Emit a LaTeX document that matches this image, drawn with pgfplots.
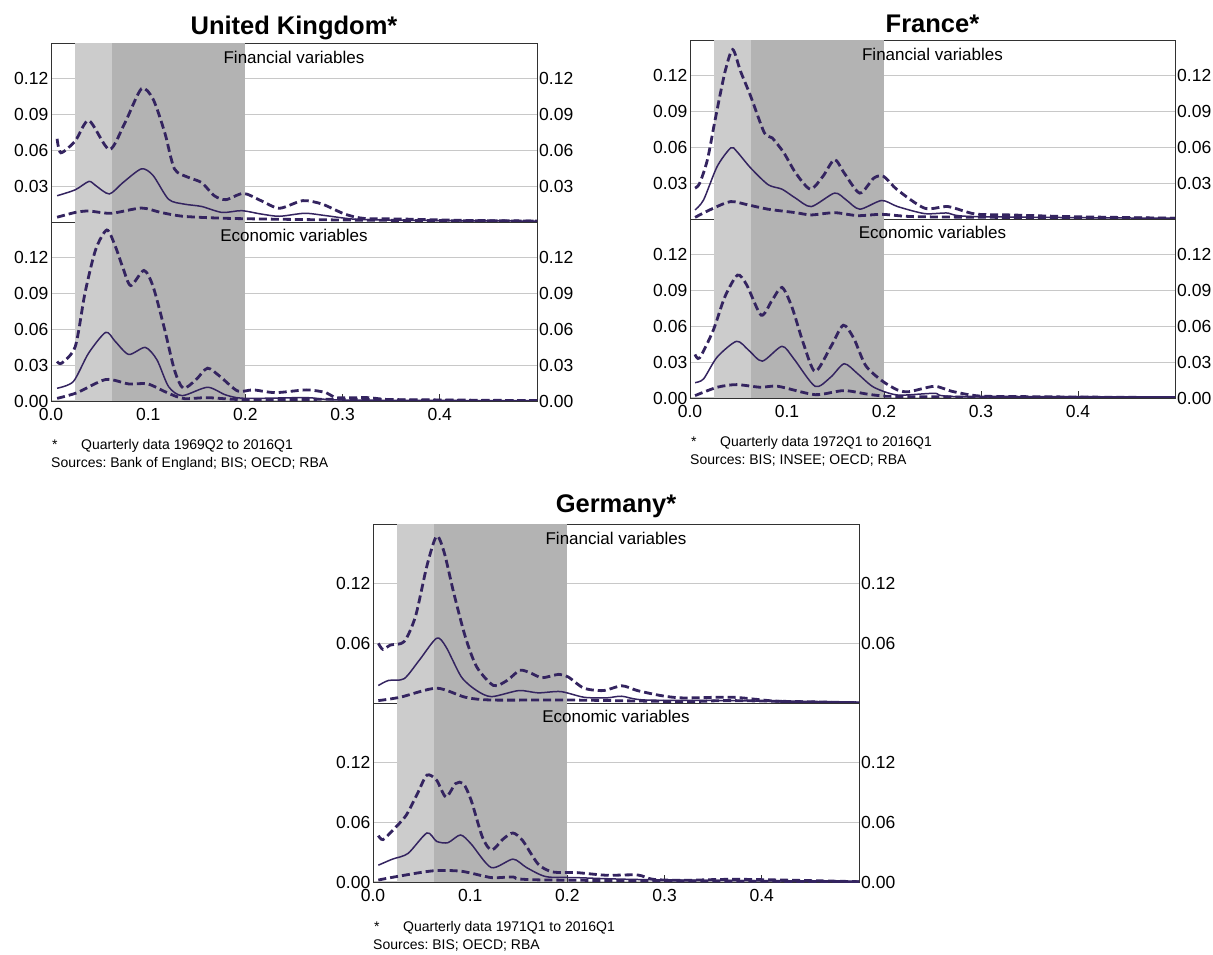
\documentclass[border=0pt]{standalone}
\usepackage{fontspec}
\setmainfont{Liberation Sans}
\usepackage{pgfplots}
\pgfplotsset{compat=1.18}
\frenchspacing
\definecolor{curve}{RGB}{52,36,96}
\definecolor{shadeL}{RGB}{204,204,204}
\definecolor{shadeD}{RGB}{179,179,179}
\definecolor{gridc}{RGB}{200,200,200}
\definecolor{frame}{RGB}{50,50,50}

\tikzset{
  panellab/.style={anchor=north, inner sep=0pt, font=\fontsize{17}{17}\selectfont},
  ttl/.style={anchor=base, inner sep=0pt, font=\bfseries\fontsize{25.5}{25.5}\selectfont},
  fn/.style={anchor=base west, inner sep=0pt, font=\fontsize{14}{14}\selectfont},
}
\pgfplotsset{
  yfmt/.style={/pgf/number format/fixed, /pgf/number format/fixed zerofill, /pgf/number format/precision=2, /pgf/number format/assume math mode=true},
  xfmt/.style={/pgf/number format/fixed, /pgf/number format/fixed zerofill, /pgf/number format/precision=1, /pgf/number format/assume math mode=true},
  panel/.style={scale only axis, height=179pt, xmin=0, xmax=0.5, ymin=0, anchor=south west,
    axis line style={frame, line width=0.9pt},
    ymajorgrids, major grid style={gridc, line width=1.2pt},
    ytick style={draw=none},
    /pgf/number format/assume math mode=true,
    tick label style={font=\fontsize{17.5}{17.5}\selectfont},
    yticklabel style={yfmt, inner sep=2.5pt},
  },
  upper/.style={panel, xtick=\empty},
  lower/.style={panel, xtick={0,0.1,0.2,0.3,0.4}, xtick pos=bottom, tick align=inside,
    major tick length=7pt, xtick style={frame, line width=0.8pt},
    xticklabel style={xfmt, inner sep=1pt, yshift=-6pt}},
  up/.style={curve, line width=2.8pt, dash pattern=on 8pt off 4pt, smooth, tension=0.45},
  med/.style={curve, line width=1.5pt, smooth, tension=0.45},
  lo/.style={curve, line width=2.8pt, dash pattern=on 8pt off 4pt, smooth, tension=0.45},
}

\newcommand{\rightax}[5]{%
\begin{axis}[scale only axis, width=#3, height=179pt, at={(#1,#2)}, anchor=south west,
  xmin=0, xmax=0.5, ymin=0, ymax=#4, axis x line=none, axis y line*=right,
  axis line style={draw=none}, ytick={#5}, yticklabel pos=right, ytick style={draw=none},
  /pgf/number format/assume math mode=true,
  tick label style={font=\fontsize{17.5}{17.5}\selectfont},
  yticklabel style={yfmt, inner sep=2pt}]
\addplot[draw=none] coordinates {(0.1,0.01)};
\end{axis}}

\newcommand{\bands}[1]{%
\addplot[fill=shadeL, draw=none] coordinates {(0.025,#1) (0.0625,#1)} \closedcycle;
\addplot[fill=shadeD, draw=none] coordinates {(0.0625,#1) (0.2,#1)} \closedcycle;}

\begin{document}
\begin{tikzpicture}
\path[use as bounding box] (0,0) rectangle (1213pt,954pt);
\fill[white] (0,0) rectangle (1213pt,954pt);

%================ UNITED KINGDOM =================
\begin{axis}[upper, name=ukU, at={(51pt,732pt)}, width=486pt, ymax=0.15, ytick={0.03,0.06,0.09,0.12}]
\bands{0.15}
\addplot[up] coordinates {(0.0063,0.0697) (0.0102,0.058) (0.025,0.068) (0.039,0.085) (0.060,0.0607) (0.076,0.083) (0.093,0.1116) (0.105,0.103) (0.117,0.075) (0.127,0.0445) (0.141,0.0375) (0.155,0.033) (0.168,0.022) (0.180,0.0187) (0.198,0.024) (0.216,0.0179) (0.235,0.0115) (0.259,0.0179) (0.279,0.015) (0.302,0.0067) (0.322,0.003) (0.361,0.0025) (0.42,0.0014) (0.5,0.0008)};
\addplot[med] coordinates {(0.0063,0.022) (0.025,0.027) (0.039,0.034) (0.046,0.0305) (0.060,0.0235) (0.074,0.033) (0.093,0.0445) (0.105,0.039) (0.121,0.019) (0.137,0.015) (0.155,0.013) (0.176,0.008) (0.196,0.0095) (0.216,0.0067) (0.235,0.0048) (0.261,0.0073) (0.283,0.0053) (0.31,0.0025) (0.342,0.0017) (0.42,0.001) (0.5,0.0008)};
\addplot[lo] coordinates {(0.0063,0.004) (0.025,0.008) (0.039,0.0092) (0.062,0.0073) (0.093,0.0117) (0.113,0.008) (0.137,0.0047) (0.184,0.003) (0.263,0.002) (0.342,0.0014) (0.5,0.0008)};
\end{axis}
\rightax{51pt}{732pt}{486pt}{0.15}{0.03,0.06,0.09,0.12}

\begin{axis}[lower, name=ukL, at={(51pt,553pt)}, width=486pt, ymax=0.15, ytick={0,0.03,0.06,0.09,0.12}]
\bands{0.15}
\addplot[up] coordinates {(0.0063,0.0331) (0.011,0.0317) (0.025,0.0457) (0.035,0.0906) (0.046,0.127) (0.0575,0.1433) (0.066,0.13) (0.074,0.1116) (0.082,0.0967) (0.0956,0.1094) (0.105,0.096) (0.117,0.0597) (0.127,0.026) (0.136,0.0107) (0.149,0.0177) (0.161,0.0275) (0.174,0.0205) (0.192,0.0084) (0.208,0.0093) (0.231,0.007) (0.263,0.0093) (0.283,0.007) (0.294,0.0028) (0.326,0.0028) (0.36,0.0008) (0.5,0.0003)};
\addplot[med] coordinates {(0.0063,0.0107) (0.023,0.0163) (0.0386,0.040) (0.0563,0.0575) (0.066,0.05) (0.080,0.039) (0.097,0.0449) (0.109,0.0345) (0.121,0.012) (0.135,0.0045) (0.161,0.0115) (0.180,0.005) (0.2,0.0022) (0.263,0.0028) (0.302,0.0008) (0.5,0.0003)};
\addplot[lo] coordinates {(0.0063,0.0022) (0.027,0.007) (0.0563,0.018) (0.08,0.0143) (0.0996,0.0143) (0.121,0.0064) (0.137,0.002) (0.161,0.0028) (0.2,0.0011) (0.3,0.0014) (0.5,0.0003)};
\end{axis}
\rightax{51pt}{553pt}{486pt}{0.15}{0,0.03,0.06,0.09,0.12}

\node[panellab] at ([yshift=-8pt]ukU.north) {Financial variables};
\node[panellab] at ([yshift=-7pt]ukL.north) {Economic variables};
\node[ttl] at ([yshift=8pt]ukU.north) {United Kingdom*};
\node[fn] at ([xshift=1pt,yshift=-49pt]ukL.south west) {*};
\node[fn] at ([xshift=30pt,yshift=-49pt]ukL.south west) {Quarterly data 1969Q2 to 2016Q1};
\node[fn] at ([xshift=0pt,yshift=-67pt]ukL.south west) {Sources: Bank of England; BIS; OECD; RBA};

%================ FRANCE =================
\begin{axis}[upper, name=frU, at={(690pt,735pt)}, width=485pt, ymax=0.15, ytick={0.03,0.06,0.09,0.12}]
\bands{0.15}
\addplot[up] coordinates {(0.0052,0.0259) (0.010,0.030) (0.018,0.0498) (0.026,0.0835) (0.036,0.123) (0.044,0.142) (0.052,0.124) (0.0625,0.103) (0.0766,0.0723) (0.0847,0.068) (0.0968,0.0554) (0.109,0.0385) (0.124,0.025) (0.137,0.0357) (0.149,0.0498) (0.159,0.0385) (0.175,0.0217) (0.1895,0.0343) (0.1996,0.0357) (0.2137,0.0245) (0.242,0.009) (0.266,0.0104) (0.294,0.0042) (0.331,0.0034) (0.391,0.002) (0.5,0.0006)};
\addplot[med] coordinates {(0.0052,0.0076) (0.014,0.016) (0.028,0.044) (0.042,0.0596) (0.048,0.0568) (0.0625,0.0428) (0.0806,0.0287) (0.0948,0.025) (0.109,0.0174) (0.125,0.0104) (0.149,0.0217) (0.161,0.016) (0.175,0.0082) (0.1976,0.0155) (0.214,0.0104) (0.242,0.0045) (0.266,0.005) (0.294,0.002) (0.5,0.0006)};
\addplot[lo] coordinates {(0.0052,0.0014) (0.024,0.009) (0.042,0.0146) (0.06,0.0118) (0.0806,0.0082) (0.109,0.0053) (0.125,0.0034) (0.149,0.0053) (0.173,0.0028) (0.198,0.0039) (0.23,0.002) (0.31,0.0014) (0.5,0.0006)};
\end{axis}
\rightax{690pt}{735pt}{485pt}{0.15}{0.03,0.06,0.09,0.12}

\begin{axis}[lower, name=frL, at={(690pt,556pt)}, width=485pt, ymax=0.15, ytick={0,0.03,0.06,0.09,0.12}]
\bands{0.15}
\addplot[up] coordinates {(0.0052,0.0365) (0.010,0.0337) (0.024,0.0568) (0.036,0.0849) (0.049,0.103) (0.0585,0.0947) (0.0734,0.0694) (0.0847,0.082) (0.0948,0.0927) (0.105,0.0764) (0.117,0.0455) (0.129,0.0222) (0.145,0.0427) (0.158,0.061) (0.169,0.0497) (0.181,0.0273) (0.1976,0.0146) (0.214,0.0067) (0.226,0.0053) (0.252,0.0098) (0.27,0.0056) (0.298,0.0017) (0.351,0.0011) (0.5,0.0003)};
\addplot[med] coordinates {(0.0052,0.0129) (0.014,0.016) (0.028,0.0343) (0.048,0.0475) (0.0605,0.040) (0.0746,0.0309) (0.0948,0.0433) (0.107,0.0329) (0.129,0.0098) (0.145,0.0174) (0.159,0.0287) (0.173,0.0202) (0.1895,0.009) (0.214,0.0025) (0.252,0.0039) (0.278,0.0011) (0.5,0.0003)};
\addplot[lo] coordinates {(0.0052,0.002) (0.028,0.009) (0.048,0.0112) (0.0726,0.009) (0.0907,0.0098) (0.129,0.0028) (0.159,0.0062) (0.1895,0.0025) (0.23,0.0011) (0.5,0.0003)};
\end{axis}
\rightax{690pt}{556pt}{485pt}{0.15}{0,0.03,0.06,0.09,0.12}

\node[panellab] at ([yshift=-8pt]frU.north) {Financial variables};
\node[panellab] at ([yshift=-7pt]frL.north) {Economic variables};
\node[ttl] at ([yshift=7pt]frU.north) {France*};
\node[fn] at ([xshift=1pt,yshift=-49pt]frL.south west) {*};
\node[fn] at ([xshift=30pt,yshift=-49pt]frL.south west) {Quarterly data 1972Q1 to 2016Q1};
\node[fn] at ([xshift=0pt,yshift=-67pt]frL.south west) {Sources: BIS; INSEE; OECD; RBA};

%================ GERMANY =================
\begin{axis}[upper, name=deU, at={(373pt,251pt)}, width=486pt, ymax=0.18, ytick={0.06,0.12}]
\bands{0.18}
\addplot[up] coordinates {(0.0055,0.06) (0.0102,0.0539) (0.018,0.0583) (0.032,0.0617) (0.0437,0.0871) (0.0555,0.138) (0.0654,0.1678) (0.0732,0.1515) (0.083,0.111) (0.0949,0.0668) (0.1067,0.0363) (0.124,0.0176) (0.138,0.0227) (0.151,0.0329) (0.162,0.0302) (0.174,0.0254) (0.191,0.0288) (0.201,0.0261) (0.217,0.0149) (0.237,0.0125) (0.256,0.0173) (0.272,0.0125) (0.296,0.0075) (0.319,0.0051) (0.37,0.0058) (0.418,0.0017) (0.5,0.0003)};
\addplot[med] coordinates {(0.0055,0.0176) (0.016,0.0227) (0.032,0.0244) (0.0476,0.043) (0.0654,0.0651) (0.075,0.0566) (0.091,0.0261) (0.1067,0.0125) (0.122,0.0064) (0.15,0.0125) (0.17,0.0102) (0.193,0.0115) (0.217,0.0058) (0.24,0.0051) (0.256,0.0068) (0.28,0.003) (0.37,0.0024) (0.437,0.001) (0.5,0.0003)};
\addplot[lo] coordinates {(0.0055,0.0024) (0.028,0.0058) (0.0654,0.0149) (0.0949,0.0058) (0.122,0.003) (0.201,0.003) (0.32,0.0014) (0.37,0.0024) (0.5,0.0003)};
\end{axis}
\rightax{373pt}{251pt}{486pt}{0.18}{0.06,0.12}

\begin{axis}[lower, name=deL, at={(373pt,72pt)}, width=486pt, ymax=0.18, ytick={0,0.06,0.12}]
\bands{0.18}
\addplot[up] coordinates {(0.0055,0.0466) (0.0102,0.0426) (0.020,0.0517) (0.034,0.0669) (0.0457,0.0889) (0.0555,0.1075) (0.0654,0.1024) (0.075,0.0855) (0.085,0.099) (0.093,0.099) (0.101,0.0821) (0.1126,0.045) (0.122,0.0321) (0.134,0.0433) (0.144,0.0493) (0.154,0.0416) (0.17,0.0179) (0.185,0.0101) (0.209,0.0095) (0.24,0.0068) (0.272,0.0071) (0.288,0.0027) (0.319,0.0017) (0.378,0.0027) (0.5,0.0003)};
\addplot[med] coordinates {(0.0055,0.0169) (0.020,0.023) (0.036,0.0287) (0.0555,0.0493) (0.0654,0.0409) (0.077,0.0395) (0.09,0.0473) (0.101,0.0382) (0.1217,0.0145) (0.144,0.023) (0.158,0.0145) (0.178,0.0054) (0.209,0.0044) (0.28,0.0024) (0.5,0.0003)};
\addplot[lo] coordinates {(0.0055,0.002) (0.024,0.0054) (0.0614,0.0112) (0.091,0.0108) (0.122,0.0044) (0.144,0.0051) (0.178,0.002) (0.5,0.0003)};
\end{axis}
\rightax{373pt}{72pt}{486pt}{0.18}{0,0.06,0.12}

\node[panellab] at ([yshift=-8pt]deU.north) {Financial variables};
\node[panellab] at ([yshift=-7pt]deL.north) {Economic variables};
\node[ttl] at ([yshift=11pt]deU.north) {Germany*};
\node[fn] at ([xshift=1pt,yshift=-49pt]deL.south west) {*};
\node[fn] at ([xshift=30pt,yshift=-49pt]deL.south west) {Quarterly data 1971Q1 to 2016Q1};
\node[fn] at ([xshift=0pt,yshift=-67pt]deL.south west) {Sources: BIS; OECD; RBA};
\end{tikzpicture}
\end{document}
